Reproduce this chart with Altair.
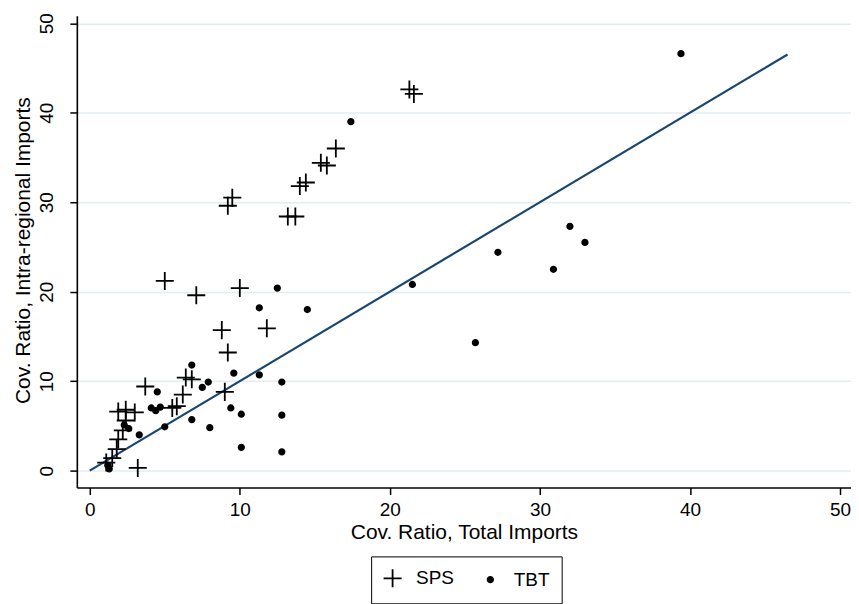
import altair as alt
import pandas as pd

# ---- data ----
sps_x = [21.3, 21.6, 16.4, 15.4, 15.8, 14.0, 14.4, 13.2, 13.7, 9.5, 9.2,
         5.0, 7.1, 10.0, 8.8, 11.8, 9.2, 9.0, 6.4, 6.8, 6.2, 5.5, 5.8,
         3.7, 1.9, 2.4, 3.0, 2.4, 2.2, 1.9, 1.8, 1.5, 1.1, 3.2]
sps_y = [42.6, 42.1, 36.0, 34.4, 34.1, 31.8, 32.2, 28.4, 28.4, 30.5, 29.6,
         21.2, 19.6, 20.4, 15.7, 15.9, 13.2, 8.8, 10.4, 10.2, 8.5, 7.0, 7.2,
         9.4, 6.6, 6.8, 6.5, 5.6, 4.5, 3.5, 2.4, 1.4, 0.9, 0.3]

tbt_x = [39.4, 17.4, 21.5, 27.2, 32.0, 33.0, 30.9, 25.7, 12.5, 11.3, 14.5,
         6.8, 9.6, 11.3, 12.8, 7.9, 7.5, 9.4, 10.1, 12.8, 6.8, 8.0, 10.1,
         12.8, 4.5, 4.1, 4.4, 4.7, 5.0, 3.3, 2.3, 2.6, 1.2, 1.3]
tbt_y = [46.6, 39.0, 20.8, 24.4, 27.3, 25.5, 22.5, 14.3, 20.4, 18.2, 18.0,
         11.8, 10.9, 10.7, 9.9, 9.9, 9.3, 7.0, 6.3, 6.2, 5.7, 4.8, 2.6,
         2.1, 8.8, 7.0, 6.7, 7.1, 4.9, 4.0, 5.1, 4.7, 0.6, 0.2]

fit_x = [0.0, 46.5]
fit_y = [0.0, 46.5]

categories = ["SPS", "TBT"]
x_ticks = [0, 10, 20, 30, 40, 50]
y_ticks = [0, 10, 20, 30, 40, 50]

x_title = "Cov. Ratio, Total Imports"
y_title = "Cov. Ratio, Intra-regional Imports"

# ---- tables ----
pts = pd.DataFrame({
    "total": sps_x + tbt_x,
    "intra": sps_y + tbt_y,
    "type": [categories[0]] * len(sps_x) + [categories[1]] * len(tbt_x),
})
fit = pd.DataFrame({"total": fit_x, "intra": fit_y})

FONT = "Liberation Sans"
CROSS = "M-3.3,0H3.3M0,-3.3V3.3"

xscale = alt.Scale(domain=[-0.86, 50.73], nice=False, zero=False)
yscale = alt.Scale(domain=[-1.895, 50.84], nice=False, zero=False)

xaxis = alt.Axis(values=x_ticks, title=x_title, grid=False, tickSize=7,
                 labelPadding=21, labelBaseline="alphabetic", labelAngle=0,
                 labelAlign="center", titleBaseline="alphabetic", titleY=51,
                 titleX=388, titleAlign="center", labelFlush=False)
yaxis = alt.Axis(values=y_ticks, title=y_title, grid=True, tickSize=7,
                 labelPadding=17, labelAngle=270, labelAlign="center",
                 labelBaseline="alphabetic", titleAngle=270,
                 titleBaseline="alphabetic", titleAlign="center",
                 titleX=-47, titleY=235, labelFlush=False)

legend = alt.Legend(title=None, orient="none", legendX=295, legendY=542,
                    direction="horizontal", columns=2,
                    strokeColor="black", padding=12, fillColor="white",
                    labelFont=FONT, labelFontSize=19, labelColor="black",
                    symbolSize=30, symbolStrokeWidth=1.8,
                    symbolStrokeColor="black", labelOffset=14,
                    columnPadding=26)

line = alt.Chart(fit).mark_line(color="#1a476f", strokeWidth=2.2).encode(
    x=alt.X("total:Q", scale=xscale, axis=xaxis),
    y=alt.Y("intra:Q", scale=yscale, axis=yaxis),
)

points = alt.Chart(pts).mark_point(strokeWidth=1.8, size=30,
                                   opacity=1).encode(
    x=alt.X("total:Q", scale=xscale, axis=xaxis),
    y=alt.Y("intra:Q", scale=yscale, axis=yaxis),
    shape=alt.Shape("type:N", scale=alt.Scale(domain=categories,
                                              range=[CROSS, "circle"]),
                    legend=legend),
    fill=alt.Fill("type:N", scale=alt.Scale(domain=categories,
                                            range=["transparent", "black"]),
                  legend=legend),
    stroke=alt.Stroke("type:N", scale=alt.Scale(domain=categories,
                                                range=["black", "black"]),
                      legend=legend),
)

chart = alt.layer(line, points).properties(
    width=776, height=473,
    padding={"left": 69, "top": 7, "right": 0, "bottom": 116},
    autosize=alt.AutoSizeParams(type="none"),
    background="white",
).configure_view(stroke=None).configure_axis(
    domainColor="black", domainWidth=1.6, tickColor="black", tickWidth=1.5,
    labelFont=FONT, labelFontSize=19, labelColor="black",
    titleFont=FONT, titleFontSize=21, titleFontWeight="normal",
    titleColor="black", gridColor="#E3EDF0", gridWidth=1.5,
)

chart.save("out.html", embed_options={"renderer": "svg", "actions": False})
